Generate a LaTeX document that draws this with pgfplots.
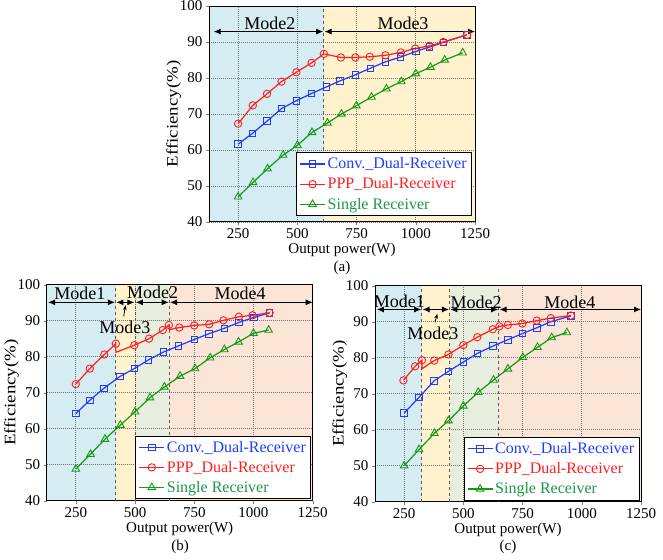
\documentclass[border=0pt]{standalone}
\usepackage{fontspec}
\setmainfont{Liberation Serif}
\usepackage{pgfplots}
\pgfplotsset{compat=1.18}
\usetikzlibrary{arrows.meta}
\definecolor{bgblue}{RGB}{213,236,243}
\definecolor{bgyellow}{RGB}{255,242,204}
\definecolor{bggreen}{RGB}{232,238,222}
\definecolor{bgpeach}{RGB}{251,229,214}
\definecolor{cblue}{RGB}{30,60,255}
\definecolor{cred}{RGB}{255,30,30}
\definecolor{cgreen}{RGB}{20,155,20}
\definecolor{tgreen}{RGB}{30,150,70}
\tikzset{
 ma/.style={{Latex[length=7pt,width=6pt]}-{Latex[length=7pt,width=6pt]}, line width=0.9pt},
 mt/.style={font=\fontsize{18}{20}\selectfont},
}
\pgfplotsset{
 myax/.style={
  scale only axis, width=266pt, height=216pt,
  xmin=127, xmax=1250, ymin=40, ymax=100,
  xtick={250,500,750,1000,1250}, ytick={40,50,...,100},
  grid=major, major grid style={dash pattern=on 1pt off 1pt, gray!90!black, line width=0.7pt},
  tick align=outside, tick pos=left, major tick length=3pt,
  axis line style={line width=1pt},
  /pgf/number format/assume math mode=true,
  /pgf/number format/1000 sep={},
  ticklabel style={font=\fontsize{15}{18}\selectfont},
  xlabel={Output power(W)}, ylabel={Efficiency(\%)},
  xlabel style={font=\fontsize{15}{18}\selectfont, yshift=2.5pt},
  ylabel style={font=\fontsize{16}{18}\selectfont, xscale=1.18},
  ylabel shift=-8pt,
  set layers,
  legend cell align=left,
  legend style={draw=black, fill=white, line width=0.8pt, font=\fontsize{16}{18}\selectfont, inner sep=3pt, row sep=3.5pt},
  legend image code/.code={\draw[mark repeat=2,mark phase=2] plot coordinates {(0pt,0pt)(12.5pt,0pt)(25pt,0pt)};},
 },
 bl/.style={cblue, line width=1.2pt, mark=square, mark size=3.3pt, mark options={line width=0.9pt, solid}},
 rd/.style={cred, line width=1.2pt, mark=o, mark size=3.7pt, mark options={line width=0.9pt, solid}},
 rl/.style={cred, line width=1.2pt, no marks, forget plot},
 rm/.style={cred, only marks, mark=o, mark size=3.7pt, mark options={line width=0.9pt, solid}, forget plot},
 gr/.style={cgreen, line width=1.2pt, mark=triangle, mark size=4.4pt, mark options={line width=0.9pt, solid}},
 bg/.style={draw=none, fill=#1, on layer=axis background, forget plot},
 bd/.style={gray!70!black, dashed, line width=1pt, forget plot},
}
\begin{document}
\begin{tikzpicture}
% ---------------- (a)
\begin{axis}[myax, at={(209pt,337pt)}, anchor=south west,
  legend style={at={(1,0)}, anchor=south east, xshift=-3pt, yshift=6pt}]
\addplot[bg=bgblue] coordinates {(127,100)(612,100)} \closedcycle;
\addplot[bg=bgyellow] coordinates {(612,100)(1250,100)} \closedcycle;
\addplot[bd] coordinates {(612,40)(612,100)};
\addplot[bl] coordinates {(250,61.6)(310,64.6)(372,68.0)(433,71.5)(496,73.7)(560,75.7)(622,77.5)(680,79.2)(745,80.9)(808,82.7)(872,84.5)(935,85.8)(1000,87.4)(1058,88.6)(1117,89.9)(1215,92.0)};
\addlegendentry{\textcolor{cblue}{Conv.\_Dual-Receiver}}
\addplot[rd] coordinates {(250,67.3)(312,72.4)(372,75.6)(433,79.0)(496,81.6)(560,84.2)(612,86.7)(684,85.7)(745,85.7)(806,85.9)(872,86.3)(937,87.1)(998,88.2)(1057,88.9)(1116,90.0)(1217,92.0)};
\addlegendentry{\textcolor{cred}{PPP\_Dual-Receiver}}
\addplot[gr] coordinates {(250,47.0)(313,51.0)(374,54.8)(440,58.6)(500,61.3)(562,64.9)(627,67.5)(686,70.0)(749,72.3)(813,74.7)(876,77.0)(939,79.0)(1000,81.2)(1062,83.0)(1122,85.0)(1198,87.0)};
\addlegendentry{\textcolor{tgreen}{Single Receiver}}
\draw[ma] (axis cs:147,92.9) -- (axis cs:609,92.9);
\draw[ma] (axis cs:615,92.9) -- (axis cs:1250,92.9);
\node[mt] at (axis cs:384,95.3) {Mode2};
\node[mt] at (axis cs:946,95.2) {Mode3};
\end{axis}
% ---------------- (b)
\begin{axis}[myax, at={(46.7pt,58.3pt)}, anchor=south west,
  legend style={at={(1,0)}, anchor=south east, xshift=-1.5pt, yshift=1.5pt}]
\addplot[bg=bgblue] coordinates {(127,100)(418,100)} \closedcycle;
\addplot[bg=bgyellow] coordinates {(418,100)(500,100)} \closedcycle;
\addplot[bg=bggreen] coordinates {(500,100)(645,100)} \closedcycle;
\addplot[bg=bgpeach] coordinates {(645,100)(1250,100)} \closedcycle;
\addplot[bd] coordinates {(418,40)(418,100)};
\addplot[bd] coordinates {(500,40)(500,100)};
\addplot[bd] coordinates {(645,40)(645,100)};
\addplot[bl] coordinates {(250,64.2)(309,67.9)(368,71.2)(436,74.5)(497,76.7)(556,79.1)(620,81.3)(683,83.0)(750,84.8)(813,86.4)(877,87.9)(938,89.5)(1001,90.9)(1068,92.2)};
\addlegendentry{\textcolor{cblue}{Conv.\_Dual-Receiver}}
\addlegendimage{rd}
\addlegendentry{\textcolor{cred}{PPP\_Dual-Receiver}}
\addplot[rl] coordinates {(250,72.4)(309,76.7)(370,80.6)(419,83.6)(419,81.2)(497,83.2)(559,85.0)(617,87.4)(643,88.8)(645,87.5)(687,88.1)(750,88.7)(813,89.0)(873,90.1)(938,91.1)(996,91.5)(1068,92.2)};
\addplot[rm] coordinates {(250,72.4)(309,76.7)(370,80.6)(419,83.6)(497,83.2)(559,85.0)(617,87.4)(643,88.8)(687,88.1)(750,88.7)(813,89.0)(873,90.1)(938,91.1)(996,91.5)(1068,92.2)};
\addplot[gr] coordinates {(250,48.8)(312,52.9)(373,57.1)(438,61.0)(500,64.7)(563,68.6)(624,71.6)(690,74.6)(753,76.7)(817,79.7)(877,82.0)(937,84.1)(1000,86.5)(1064,87.4)};
\addlegendentry{\textcolor{tgreen}{Single Receiver}}
\draw[ma] (axis cs:133,95.1) -- (axis cs:415,95.1);
\draw[ma] (axis cs:421,95.1) -- (axis cs:497,95.1);
\draw[ma] (axis cs:503,95.1) -- (axis cs:642,95.1);
\draw[ma] (axis cs:648,95.1) -- (axis cs:1250,95.1);
\node[mt] at (axis cs:267,97.6) {Mode1};
\node[mt] at (axis cs:574,97.8) {Mode2};
\node[mt] at (axis cs:944,97.6) {Mode4};
\node[mt] at (axis cs:457,88.2) {Mode3};
\draw[-{Stealth[length=5pt]}, line width=0.8pt] (axis cs:452,91.2) -- (axis cs:460,94.3);
\end{axis}
% ---------------- (c)
\begin{axis}[myax, at={(375pt,57.3pt)}, anchor=south west,
  legend style={at={(1,0)}, anchor=south east, xshift=-1.5pt, yshift=1pt}]
\addplot[bg=bgblue] coordinates {(127,100)(325,100)} \closedcycle;
\addplot[bg=bgyellow] coordinates {(325,100)(442,100)} \closedcycle;
\addplot[bg=bggreen] coordinates {(442,100)(650,100)} \closedcycle;
\addplot[bg=bgpeach] coordinates {(650,100)(1250,100)} \closedcycle;
\addplot[bd] coordinates {(325,40)(325,100)};
\addplot[bd] coordinates {(442,40)(442,100)};
\addplot[bd] coordinates {(650,40)(650,100)};
\addplot[bl] coordinates {(250,64.6)(313,69.0)(377,73.6)(437,76.2)(500,78.8)(559,81.2)(624,83.2)(688,85.0)(749,86.7)(810,88.3)(869,90.0)(954,91.6)};
\addlegendentry{\textcolor{cblue}{Conv.\_Dual-Receiver}}
\addlegendimage{rd}
\addlegendentry{\textcolor{cred}{PPP\_Dual-Receiver}}
\addplot[rl] coordinates {(247,73.7)(296,77.6)(325,79.3)(325,76.9)(377,79.2)(437,80.9)(500,83.5)(559,85.7)(624,87.9)(652,88.7)(688,89.1)(749,89.5)(810,90.3)(869,91.0)(954,91.7)};
\addplot[rm] coordinates {(247,73.7)(296,77.6)(325,79.3)(377,79.2)(437,80.9)(500,83.5)(559,85.7)(624,87.9)(652,88.7)(688,89.1)(749,89.5)(810,90.3)(869,91.0)(954,91.7)};
\addplot[gr] coordinates {(250,50.0)(313,54.5)(378,59.0)(437,62.5)(500,66.6)(563,70.4)(627,73.8)(688,76.9)(751,80.1)(813,82.9)(873,85.6)(937,87.0)};
\addlegendentry{\textcolor{tgreen}{Single Receiver}}
\draw[ma] (axis cs:135,93.4) -- (axis cs:322,93.4);
\draw[ma] (axis cs:328,93.4) -- (axis cs:439,93.4);
\draw[ma] (axis cs:445,93.4) -- (axis cs:647,93.4);
\draw[ma] (axis cs:653,93.4) -- (axis cs:1250,93.4);
\node[mt] at (axis cs:230,95.6) {Mode1};
\node[mt] at (axis cs:554,95.4) {Mode2};
\node[mt] at (axis cs:950,95.4) {Mode4};
\node[mt] at (axis cs:371,86.8) {Mode3};
\draw[-{Stealth[length=5pt]}, line width=0.8pt] (axis cs:380,89.8) -- (axis cs:390,92.2);
\end{axis}
\node[font=\fontsize{15}{18}\selectfont] at (342pt,291pt) {(a)};
\node[font=\fontsize{15}{18}\selectfont] at (180pt,12pt) {(b)};
\node[font=\fontsize{15}{18}\selectfont] at (508pt,12pt) {(c)};
\pgfresetboundingbox
\path (0pt,0pt) rectangle (663pt,559pt);
\end{tikzpicture}
\end{document}
